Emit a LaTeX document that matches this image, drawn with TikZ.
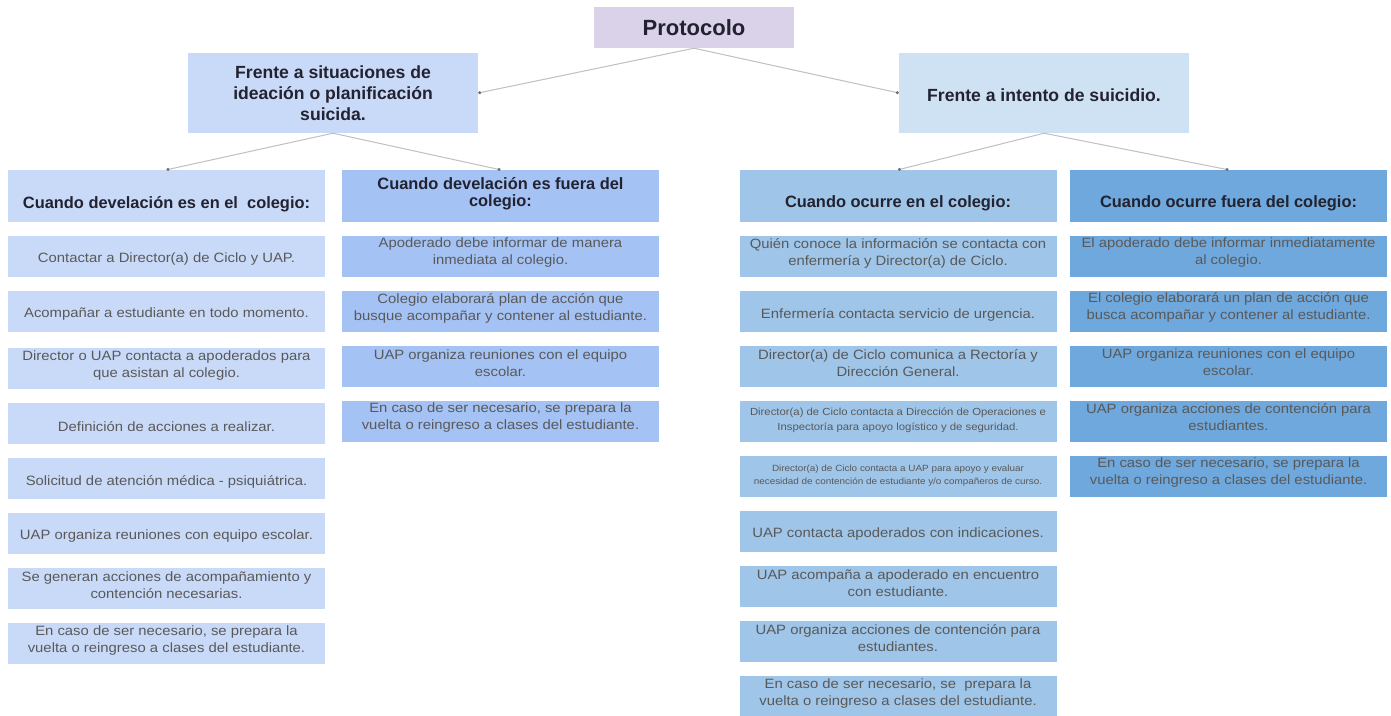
\documentclass[tikz,border=0pt]{standalone}
\usepackage{fontspec}
\setmainfont{Liberation Sans}
\newfontfamily\bodyfont{Liberation Sans}[FakeStretch=1.1]
\usetikzlibrary{arrows.meta}
\definecolor{cP}{HTML}{D9D2E9}
\definecolor{cA}{HTML}{C9DAF8}
\definecolor{cB}{HTML}{CFE2F3}
\definecolor{cI}{HTML}{C9DAF8}
\definecolor{cII}{HTML}{A4C2F4}
\definecolor{cIII}{HTML}{9FC5E8}
\definecolor{cIV}{HTML}{6FA8DC}
\definecolor{txtgray}{HTML}{595959}
\definecolor{hdtext}{HTML}{222230}
\definecolor{linkgray}{HTML}{C0C0C0}
\definecolor{dotgray}{HTML}{707070}
\tikzset{
  bx/.style={rectangle, inner sep=0pt, draw=none, minimum height=41pt, minimum width=317pt},
  hd/.style={rectangle, inner sep=0pt, draw=none, minimum height=52pt, minimum width=317pt},
  top/.style={rectangle, inner sep=0pt, draw=none, minimum height=80pt, minimum width=290pt},
  tx/.style={align=center, inner sep=0pt, text=txtgray, font=\bodyfont\fontsize{13.5}{17}\selectfont},
  ht/.style={align=center, inner sep=0pt, text=hdtext, font=\bfseries\fontsize{16.4}{17}\selectfont},
  tt/.style={align=center, inner sep=0pt, text=hdtext, font=\bfseries\fontsize{17.6}{21}\selectfont},
  link/.style={draw=linkgray, line width=1pt, -{Circle[length=3pt, color=dotgray, fill=dotgray]}}
}
% name, cx, top, colour, text centre offset, extra text style, text
\newcommand\cell[7]{%
  \node[bx, fill=#4] (#1) at (#2,#3+20.5) {};
  \node[tx,#6] (#1t) at (#2,#3+#5) {#7};}
\begin{document}
\begin{tikzpicture}[x=1pt,y=-1pt]
\useasboundingbox (0,0) rectangle (1391,715);
\fill[white] (0,0) rectangle (1391,715);
% top level
\node[rectangle, inner sep=0pt, minimum width=200pt, minimum height=41pt, fill=cP] (P) at (694,27.5) {};
\node[text=hdtext, inner sep=0pt, font=\bfseries\fontsize{22}{24}\selectfont] (Pt) at (694,27.5) {Protocolo};
\node[top, fill=cA] (A) at (333,93) {};
\node[tt] (At) at (333,93) {Frente a situaciones de\\ideación o planificación\\suicida.};
\node[top, fill=cB] (B) at (1044,93) {};
\node[tt] (Bt) at (1044,95) {Frente a intento de suicidio.};
% headers
\node[hd, fill=cI] (h1) at (166.5,196) {};
\node[ht] (h1t) at (166.5,204) {Cuando develación es en el~ colegio:};
\node[hd, fill=cII] (h2) at (500.5,196) {};
\node[ht] (h2t) at (500.5,194) {Cuando develación es fuera del\\colegio:};
\node[hd, fill=cIII] (h3) at (898,196) {};
\node[ht] (h3t) at (898,203) {Cuando ocurre en el colegio:};
\node[hd, fill=cIV] (h4) at (1228.5,196) {};
\node[ht] (h4t) at (1228.5,203) {Cuando ocurre fuera del colegio:};
% connectors
\draw[link] (P.south) -- (A.east);
\draw[link] (P.south) -- (B.west);
\draw[link] (A.south) -- (h1.north);
\draw[link] (A.south) -- (h2.north);
\draw[link] (B.south) -- (h3.north);
\draw[link] (B.south) -- (h4.north);
% column 1
\cell{a1}{166.5}{236}{cI}{23.5}{}{Contactar a Director(a) de Ciclo y UAP.}
\cell{a2}{166.5}{291}{cI}{23.5}{}{Acompañar a estudiante en todo momento.}
\cell{a3}{166.5}{348}{cI}{17.5}{}{Director o UAP contacta a apoderados para\\que asistan al colegio.}
\cell{a4}{166.5}{403}{cI}{23.5}{}{Definición de acciones a realizar.}
\cell{a5}{166.5}{458}{cI}{23.5}{}{Solicitud de atención médica - psiquiátrica.}
\cell{a6}{166.5}{513}{cI}{23.5}{}{UAP organiza reuniones con equipo escolar.}
\cell{a7}{166.5}{568}{cI}{17.5}{}{Se generan acciones de acompañamiento y\\contención necesarias.}
\cell{a8}{166.5}{623}{cI}{17.5}{}{En caso de ser necesario, se prepara la\\vuelta o reingreso a clases del estudiante.}
% column 2
\cell{b1}{500.5}{236}{cII}{17}{}{Apoderado debe informar de manera\\inmediata al colegio.}
\cell{b2}{500.5}{291}{cII}{17}{}{Colegio elaborará plan de acción que\\busque acompañar y contener al estudiante.}
\cell{b3}{500.5}{346}{cII}{17}{}{UAP organiza reuniones con el equipo\\escolar.}
\cell{b4}{500.5}{401}{cII}{17}{}{En caso de ser necesario, se prepara la\\vuelta o reingreso a clases del estudiante.}
% column 3
\cell{c1}{898}{236}{cIII}{17}{}{Quién conoce la información se contacta con\\enfermería y Director(a) de Ciclo.}
\cell{c2}{898}{291}{cIII}{23.5}{}{Enfermería contacta servicio de urgencia.}
\cell{c3}{898}{346}{cIII}{17}{}{Director(a) de Ciclo comunica a Rectoría y\\Dirección General.}
\cell{c4}{898}{401}{cIII}{19.5}{font=\bodyfont\fontsize{10.3}{15}\selectfont}{Director(a) de Ciclo contacta a Dirección de Operaciones e\\Inspectoría para apoyo logístico y de seguridad.}
\cell{c5}{898}{456}{cIII}{20}{font=\bodyfont\fontsize{9}{13}\selectfont}{Director(a) de Ciclo contacta a UAP para apoyo y evaluar\\necesidad de contención de estudiante y/o compañeros de curso.}
\cell{c6}{898}{511}{cIII}{23.5}{}{UAP contacta apoderados con indicaciones.}
\cell{c7}{898}{566}{cIII}{17}{}{UAP acompaña a apoderado en encuentro\\con estudiante.}
\cell{c8}{898}{621}{cIII}{17}{}{UAP organiza acciones de contención para\\estudiantes.}
\cell{c9}{898}{676}{cIII}{17}{}{En caso de ser necesario, se~ prepara la\\vuelta o reingreso a clases del estudiante.}
% column 4
\cell{d1}{1228.5}{236}{cIV}{16.5}{}{El apoderado debe informar inmediatamente\\al colegio.}
\cell{d2}{1228.5}{291}{cIV}{16.5}{}{El colegio elaborará un plan de acción que\\busca acompañar y contener al estudiante.}
\cell{d3}{1228.5}{346}{cIV}{16.5}{}{UAP organiza reuniones con el equipo\\escolar.}
\cell{d4}{1228.5}{401}{cIV}{16.5}{}{UAP organiza acciones de contención para\\estudiantes.}
\cell{d5}{1228.5}{456}{cIV}{16.5}{}{En caso de ser necesario, se prepara la\\vuelta o reingreso a clases del estudiante.}
\end{tikzpicture}
\end{document}
